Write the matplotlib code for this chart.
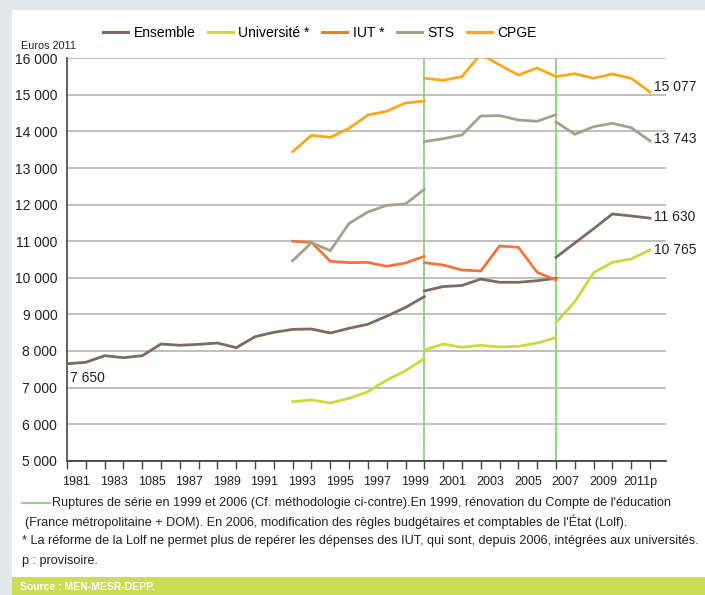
import matplotlib
matplotlib.use("Agg")
import matplotlib.pyplot as plt
from matplotlib.lines import Line2D
from matplotlib.patches import Rectangle
import numpy as np

plt.rcParams["font.family"] = ["Liberation Sans", "DejaVu Sans"]

# ── données (euros 2011) ──────────────────────────────────────────────
years_a = list(range(1980, 2000))   # 1re série
years_u = list(range(1992, 2000))   # début des séries par filière
years_b = list(range(1999, 2007))   # après rupture 1999
years_c = list(range(2006, 2012))   # après rupture 2006

ensemble_a = [7650, 7690, 7870, 7816, 7870, 8190, 8155, 8180, 8217, 8090,
              8390, 8510, 8590, 8600, 8490, 8620, 8730, 8950, 9190, 9485]
ensemble_b = [9640, 9760, 9790, 9965, 9877, 9877, 9920, 9985]
ensemble_c = [10560, 10950, 11340, 11745, 11690, 11630]

univ_a = [6613, 6660, 6577, 6705, 6886, 7206, 7460, 7790]
univ_b = [8026, 8190, 8100, 8155, 8108, 8127, 8217, 8363]
univ_c = [8773, 9347, 10140, 10423, 10514, 10765]

iut_a = [11000, 10970, 10450, 10415, 10420, 10314, 10405, 10587]
iut_b = [10414, 10350, 10213, 10186, 10870, 10833, 10150, 9940]

sts_a = [10467, 10960, 10741, 11490, 11799, 11981, 12018, 12420]
sts_b = [13721, 13803, 13904, 14423, 14432, 14314, 14278, 14459]
sts_c = [14259, 13923, 14131, 14223, 14103, 13743]

cpge_a = [13447, 13895, 13840, 14087, 14451, 14552, 14779, 14833]
cpge_b = [15454, 15400, 15498, 16118, 15818, 15544, 15735, 15498]
cpge_c = [15498, 15580, 15454, 15572, 15454, 15077]

ruptures = [1999, 2006]
yticks = list(range(5000, 16001, 1000))
xlabels = [str(y) for y in range(1981, 2011, 2)] + ["2011p"]
xlabels[2] = "1085"   # tel quel dans l'original

C_ENS  = "#7b6b60"
C_UNIV = "#c8da3f"
C_IUT  = "#f47440"
C_STS  = "#a59f8e"
C_CPGE = "#f9a81c"
C_RUPT = "#98d28c"
C_BAR  = "#cbdc55"
C_TXT  = "#222222"

# ── figure ────────────────────────────────────────────────────────────
fig = plt.figure(figsize=(7.05, 5.95), dpi=100, facecolor="#e6e7e9")
fig.patches.append(Rectangle((12 / 705, 18 / 595), 1, 567 / 595,
                             transform=fig.transFigure, facecolor="white",
                             edgecolor="none", zorder=-2))
fig.patches.append(Rectangle((12 / 705, 0), 1, 18 / 595,
                             transform=fig.transFigure, facecolor=C_BAR,
                             edgecolor="none", zorder=-2))

ax = fig.add_axes([67 / 705, 1 - 460.7 / 595, 599 / 705, 402.4 / 595])
ax.set_facecolor("none")

lw = 2.0
segments = [
    (years_a, ensemble_a, C_ENS), (years_b, ensemble_b, C_ENS), (years_c, ensemble_c, C_ENS),
    (years_u, univ_a, C_UNIV), (years_b, univ_b, C_UNIV), (years_c, univ_c, C_UNIV),
    (years_u, iut_a, C_IUT), (years_b, iut_b, C_IUT),
    (years_u, sts_a, C_STS), (years_b, sts_b, C_STS), (years_c, sts_c, C_STS),
    (years_u, cpge_a, C_CPGE), (years_b, cpge_b, C_CPGE), (years_c, cpge_c, C_CPGE),
]
for xs, ys, c in segments:
    ax.plot(xs, ys, color=c, lw=lw, solid_joinstyle="miter", zorder=3)

for r in ruptures:
    ax.axvline(r, color=C_RUPT, lw=1.4, zorder=2)

ax.set_xlim(1980, 2011.85)
ax.set_ylim(5000, 16000)
ax.set_yticks(yticks)
ax.set_yticklabels([f"{v:,}".replace(",", " ") for v in yticks], fontsize=10, color=C_TXT)
ax.tick_params(axis="y", length=0, pad=7)
ax.yaxis.grid(True, color="#b4b4b4", lw=1.2, zorder=1)

ax.set_xticks(range(1980, 2012))
ax.set_xticklabels([])
ax.tick_params(axis="x", which="major", length=6, width=1.0, color="#444444", direction="out")
ax.set_xticks(np.arange(1980.5, 2011, 2), minor=True)
ax.set_xticklabels(xlabels, minor=True, fontsize=9, color=C_TXT)
ax.tick_params(axis="x", which="minor", length=0, pad=11)

for s in ["top", "right"]:
    ax.spines[s].set_visible(False)
ax.spines["left"].set_color("#555555")
ax.spines["bottom"].set_color("#444444")
ax.spines["left"].set_linewidth(1.3)
ax.spines["bottom"].set_linewidth(1.3)

# étiquettes de fin de série
ax.annotate("7 650", (1980, ensemble_a[0]), xytext=(2, -10), textcoords="offset points",
            fontsize=10, ha="left", va="center", color=C_TXT)
for val, lbl, dy in [(cpge_c[-1], "15 077", 4), (sts_c[-1], "13 743", 1),
                     (ensemble_c[-1], "11 630", 1), (univ_c[-1], "10 765", 0)]:
    ax.annotate(lbl, (2011, val), xytext=(3, dy), textcoords="offset points",
                fontsize=10, ha="left", va="center", color=C_TXT)

fig.text(21 / 705, 1 - 46 / 595, "Euros 2011", fontsize=7.8, va="center", color=C_TXT)

# légende
handles = [Line2D([], [], color=c, lw=2.2) for c in [C_ENS, C_UNIV, C_IUT, C_STS, C_CPGE]]
labels = ["Ensemble", "Université *", "IUT *", "STS", "CPGE"]
fig.legend(handles, labels, loc="center", bbox_to_anchor=(320 / 705, 1 - 33 / 595),
           ncol=5, frameon=False, fontsize=10, handlelength=1.8, handletextpad=0.4,
           columnspacing=0.9)

# notes
fig.add_artist(Line2D([22 / 705, 50 / 705], [1 - 503 / 595] * 2, color=C_RUPT, lw=1.5,
                      transform=fig.transFigure))
notes = [
    (52, 503, "Ruptures de série en 1999 et 2006 (Cf. méthodologie ci-contre).En 1999, rénovation du Compte de l'éducation"),
    (25, 522, "(France métropolitaine + DOM). En 2006, modification des règles budgétaires et comptables de l'État (Lolf)."),
    (22, 541, "* La réforme de la Lolf ne permet plus de repérer les dépenses des IUT, qui sont, depuis 2006, intégrées aux universités."),
    (22, 561, "p : provisoire."),
]
for x, y, t in notes:
    fig.text(x / 705, 1 - y / 595, t, fontsize=9.1, va="center", ha="left", color=C_TXT)

fig.text(20 / 705, 1 - 587 / 595, "Source : MEN-MESR-DEPP.", fontsize=7.5, fontweight="bold",
         color="white", va="center", ha="left")

fig.savefig("out.png", dpi=100, facecolor=fig.get_facecolor())
